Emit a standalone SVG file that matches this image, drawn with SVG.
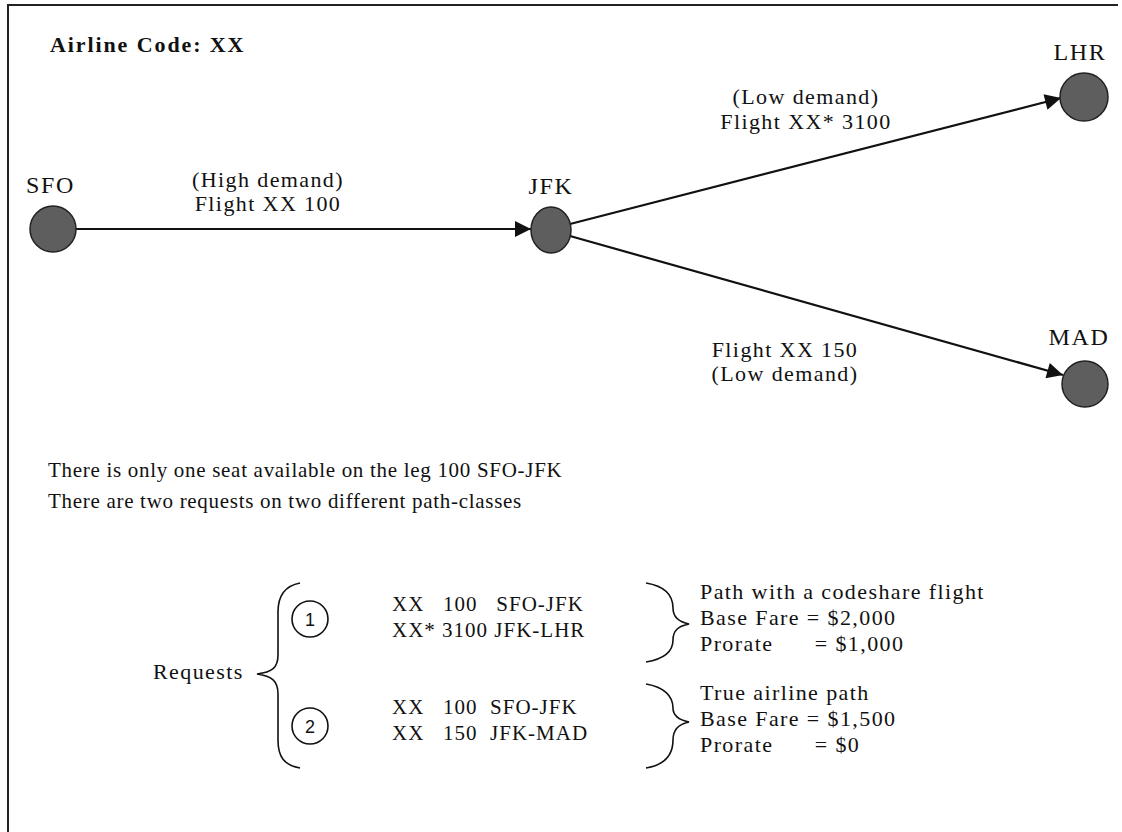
<svg xmlns="http://www.w3.org/2000/svg" width="1122" height="832" viewBox="0 0 1122 832">
<defs>
<style>
.t{font-family:"Liberation Serif","Times New Roman",serif;font-size:21px;letter-spacing:0.7px;fill:#111}
.b{font-family:"Liberation Serif","Times New Roman",serif;font-size:22px;letter-spacing:1.4px;fill:#111}
.c{font-family:"Liberation Serif","Times New Roman",serif;font-size:21px;letter-spacing:1px;fill:#111}
.lb{font-family:"Liberation Serif","Times New Roman",serif;font-size:22px;letter-spacing:1.4px;fill:#111}
.ap{font-family:"Liberation Serif","Times New Roman",serif;font-size:24px;letter-spacing:1.6px;fill:#111}
.bold{font-family:"Liberation Serif","Times New Roman",serif;font-size:22px;font-weight:bold;letter-spacing:1.9px;fill:#111}
.num{font-family:"Liberation Sans",Arial,sans-serif;font-size:18px;fill:#111}
.node{fill:#5e5e5e;stroke:#222;stroke-width:1.5}
.edge{stroke:#111;stroke-width:2.2;fill:none}
.br{stroke:#111;stroke-width:1.6;fill:none}
.ring{fill:none;stroke:#111;stroke-width:1.6}
</style>
<marker id="ah" viewBox="0 0 10 10" refX="10" refY="5" markerWidth="28" markerHeight="16" markerUnits="userSpaceOnUse" orient="auto">
<path d="M0,0 L10,5 L0,10 Z" fill="#111"/>
</marker>
</defs>
<rect width="1122" height="832" fill="#fff"/>
<g id="frame">
<line x1="8" y1="4" x2="8" y2="832" stroke="#222" stroke-width="2"/>
<line x1="8" y1="5" x2="1118" y2="5" stroke="#222" stroke-width="2"/>
</g>
<text class="bold" x="50" y="52">Airline Code: XX</text>
<g id="connectors">
<line class="edge" x1="76" y1="229" x2="531" y2="229" marker-end="url(#ah)"/>
<line class="edge" x1="570" y1="224" x2="1061" y2="98" marker-end="url(#ah)"/>
<line class="edge" x1="570" y1="236" x2="1063" y2="375" marker-end="url(#ah)"/>
<text class="lb" x="268" y="187" text-anchor="middle">(High demand)</text>
<text class="lb" x="268" y="211" text-anchor="middle">Flight XX 100</text>
<text class="lb" x="806" y="104" text-anchor="middle">(Low demand)</text>
<text class="lb" x="806" y="129" text-anchor="middle">Flight XX* 3100</text>
<text class="lb" x="785" y="357" text-anchor="middle">Flight XX 150</text>
<text class="lb" x="785" y="381" text-anchor="middle">(Low demand)</text>
</g>
<g id="SFO">
<text class="ap" x="26" y="193">SFO</text>
<circle class="node" cx="53" cy="229" r="23"/>
</g>
<g id="JFK">
<text class="ap" x="551" y="194" text-anchor="middle">JFK</text>
<ellipse class="node" cx="551" cy="230" rx="20" ry="23"/>
</g>
<g id="LHR">
<text class="ap" x="1080" y="60" text-anchor="middle">LHR</text>
<circle class="node" cx="1084" cy="97" r="24"/>
</g>
<g id="MAD">
<text class="ap" x="1079" y="345" text-anchor="middle">MAD</text>
<circle class="node" cx="1085" cy="384" r="23"/>
</g>
<g id="notes">
<text class="t" x="48" y="477">There is only one seat available on the leg 100 SFO-JFK</text>
<text class="t" x="48" y="508">There are two requests on two different path-classes</text>
</g>
<g id="requests">
<text class="b" x="153" y="679">Requests</text>
<path class="br" d="M300,583 C284,586 278,596 278,612 L278,655 C278,668 272,672 257,674 C272,676 278,681 278,694 L278,740 C278,757 284,765 300,768"/>
<g id="req1">
<circle class="ring" cx="310" cy="619" r="18"/>
<text class="num" x="310" y="625.5" text-anchor="middle">1</text>
<text class="c" x="392" y="611" xml:space="preserve">XX   100   SFO-JFK</text>
<text class="c" x="392" y="637">XX* 3100 JFK-LHR</text>
<path class="br" d="M646,583 C664,586 673,595 673,608 C673,617 679,622 689,624 C679,626 673,630 673,640 C673,652 664,659 646,662"/>
<text class="b" x="700" y="599">Path with a codeshare flight</text>
<text class="b" x="700" y="625">Base Fare = $2,000</text>
<text class="b" x="700" y="651" xml:space="preserve">Prorate      = $1,000</text>
</g>
<g id="req2">
<circle class="ring" cx="310" cy="726" r="18"/>
<text class="num" x="310" y="732.5" text-anchor="middle">2</text>
<text class="c" x="392" y="714" xml:space="preserve">XX   100  SFO-JFK</text>
<text class="c" x="392" y="740" xml:space="preserve">XX   150  JFK-MAD</text>
<path class="br" d="M646,684 C664,687 673,696 673,708 C673,716 679,720 689,722 C679,724 673,729 673,740 C673,756 664,765 646,768"/>
<text class="b" x="700" y="700">True airline path</text>
<text class="b" x="700" y="726">Base Fare = $1,500</text>
<text class="b" x="700" y="752" xml:space="preserve">Prorate      = $0</text>
</g>
</g>
</svg>
